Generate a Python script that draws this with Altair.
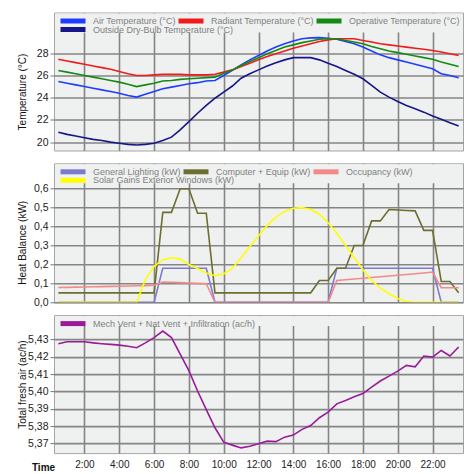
import altair as alt
import pandas as pd

hours = [0.5, 1.0, 1.5, 2.0, 2.5, 3.0, 3.5, 4.0, 4.5, 5.0, 5.5, 6.0, 6.5, 7.0, 7.5, 8.0,
         8.5, 9.0, 9.5, 10.0, 10.5, 11.0, 11.5, 12.0, 12.5, 13.0, 13.5, 14.0, 14.5, 15.0,
         15.5, 16.0, 16.5, 17.0, 17.5, 18.0, 18.5, 19.0, 19.5, 20.0, 20.5, 21.0, 21.5,
         22.0, 22.5, 23.0, 23.5]

# Panel 1: temperatures (°C)
air_temp = [25.45, 25.3, 25.15, 25.0, 24.85, 24.7, 24.55, 24.4, 24.2, 24.05,
            24.3, 24.55, 24.8, 24.95, 25.1, 25.25, 25.35, 25.5, 25.55, 26.0,
            26.45, 26.95, 27.4, 27.8, 28.2, 28.55, 28.85, 29.1, 29.3, 29.38,
            29.4, 29.35, 29.25, 29.05, 28.85, 28.55, 28.2, 27.85, 27.6, 27.4,
            27.2, 27.0, 26.8, 26.6, 26.15, 26.0, 25.8]
radiant_temp = [27.45, 27.3, 27.15, 27.0, 26.85, 26.7, 26.55, 26.35, 26.15, 26.0,
                26.0, 26.05, 26.1, 26.1, 26.1, 26.05, 26.05, 26.05, 26.1, 26.3,
                26.5, 26.8, 27.1, 27.4, 27.7, 27.95, 28.2, 28.45, 28.65, 28.85,
                29.05, 29.2, 29.3, 29.3, 29.3, 29.15, 29.0, 28.85, 28.75, 28.65,
                28.55, 28.45, 28.35, 28.25, 28.1, 27.95, 27.8]
operative_temp = [26.45, 26.3, 26.15, 26.0, 25.85, 25.7, 25.55, 25.4, 25.2, 25.0,
                  25.15, 25.3, 25.5, 25.55, 25.65, 25.7, 25.75, 25.8, 25.85, 26.2,
                  26.5, 26.9, 27.25, 27.6, 27.95, 28.25, 28.55, 28.75, 28.95, 29.1,
                  29.25, 29.3, 29.3, 29.15, 29.0, 28.85, 28.6, 28.4, 28.2, 28.05,
                  27.9, 27.75, 27.6, 27.45, 27.2, 27.0, 26.8]
outside_temp = [20.9, 20.7, 20.55, 20.4, 20.25, 20.15, 20.0, 19.9, 19.8, 19.75,
                19.8, 19.9, 20.15, 20.45, 21.1, 21.85, 22.6, 23.3, 23.95, 24.5,
                25.05, 25.75, 26.15, 26.5, 26.85, 27.15, 27.4, 27.6, 27.6, 27.6,
                27.4, 27.1, 26.8, 26.45, 26.1, 25.7, 25.1, 24.5, 24.05, 23.65,
                23.3, 23.0, 22.7, 22.35, 22.05, 21.75, 21.45]

# Panel 2: heat balance (kW)
lighting = [0, 0, 0, 0, 0, 0, 0, 0, 0, 0, 0, 0,
            0.18, 0.18, 0.18, 0.18, 0.18, 0.18,
            0, 0, 0, 0, 0, 0, 0, 0, 0, 0, 0, 0, 0, 0,
            0.18, 0.18, 0.18, 0.18, 0.18, 0.18, 0.18, 0.18, 0.18, 0.18, 0.18, 0.18,
            0, 0, 0]
computer = [0.05, 0.05, 0.05, 0.05, 0.05, 0.05, 0.05, 0.05, 0.05, 0.05, 0.05, 0.05,
            0.475, 0.475, 0.6, 0.6, 0.47, 0.47,
            0.05, 0.05, 0.05, 0.05, 0.05, 0.05, 0.05, 0.05, 0.05, 0.05, 0.05, 0.05,
            0.115, 0.115, 0.18, 0.18, 0.3, 0.3, 0.43, 0.43, 0.49, 0.487, 0.485, 0.483,
            0.38, 0.38, 0.11, 0.11, 0.05]
occupancy = [0.078, 0.079, 0.08, 0.081, 0.082, 0.083, 0.084, 0.085, 0.086, 0.087, 0.088, 0.09,
             0.107, 0.106, 0.104, 0.102, 0.1, 0.098,
             0, 0, 0, 0, 0, 0, 0, 0, 0, 0, 0, 0, 0, 0,
             0.115, 0.119, 0.123, 0.127, 0.131, 0.135, 0.139, 0.143, 0.147, 0.151, 0.155, 0.16,
             0.077, 0.077, 0.077]
solar = [0, 0, 0, 0, 0, 0, 0, 0, 0, 0,
         0.12, 0.19, 0.225, 0.235, 0.228, 0.2, 0.178, 0.155, 0.14, 0.15,
         0.18, 0.235, 0.295, 0.35, 0.405, 0.45, 0.48, 0.497, 0.5, 0.49,
         0.465, 0.42, 0.365, 0.3, 0.235, 0.172, 0.115, 0.075, 0.045, 0.02,
         0.004, 0, 0, 0, 0, 0, 0]

# Panel 3: total fresh air (ac/h)
fresh_air = [5.4275, 5.4286, 5.4286, 5.4286, 5.428, 5.4275, 5.4271, 5.4267, 5.426, 5.4252,
             5.428, 5.431, 5.4348, 5.431, 5.4215, 5.412, 5.4002, 5.3895, 5.379, 5.3707,
             5.369, 5.3674, 5.3684, 5.3698, 5.3713, 5.371, 5.3736, 5.3748, 5.3781, 5.3803,
             5.3848, 5.388, 5.3928, 5.3948, 5.3969, 5.3988, 5.4025, 5.406, 5.4088, 5.4117,
             5.415, 5.4142, 5.4204, 5.4198, 5.4236, 5.4204, 5.4256]

temp_names = ["Air Temperature (°C)", "Radiant Temperature (°C)",
              "Operative Temperature (°C)", "Outside Dry-Bulb Temperature (°C)"]
temp_colors = ["#1f3dff", "#ee1c1c", "#138a13", "#16168a"]
heat_names = ["General Lighting (kW)", "Computer + Equip (kW)", "Occupancy (kW)",
              "Solar Gains Exterior Windows (kW)"]
heat_colors = ["#7b7bd0", "#6e6e30", "#f28a8a", "#ffff00"]
air_names = ["Mech Vent + Nat Vent + Infiltration (ac/h)"]
air_colors = ["#991b99"]

x_ticks = [2, 4, 6, 8, 10, 12, 14, 16, 18, 20, 22]

BG = "#eff0f0"
GRID = "#858585"
FONT = "Liberation Sans"
W = 409


def long_df(names, series):
    rows = []
    for name, vals in zip(names, series):
        for h, v in zip(hours, vals):
            rows.append({"hour": h, "series": name, "value": v})
    return pd.DataFrame(rows)


def legend(y):
    return alt.Legend(orient="none", legendX=4, legendY=y, direction="horizontal",
                      title=None, symbolType="stroke", symbolSize=625, symbolStrokeWidth=5,
                      labelFontSize=9, labelColor="#808080", labelFont=FONT,
                      columnPadding=-11, padding=0, labelOffset=5, labelLimit=300)


def panel(names, series, colors, ydom, yvals, yfmt, ytitle, title_y, cover_h, height, bottom):
    if bottom:
        xaxis = alt.Axis(values=x_ticks, grid=True, ticks=False, domain=False,
                         labelExpr="datum.value + ':00'", labelFontSize=10,
                         labelPadding=6, labelColor="#222",
                         title="Time", titleX=-11, titleY=17, titleAlign="center",
                         titleBaseline="alphabetic", titleFontWeight="bold",
                         titleFontSize=10, titleColor="#111",
                         gridColor=GRID, gridWidth=1.6)
    else:
        xaxis = alt.Axis(values=x_ticks, grid=True, ticks=False, domain=False,
                         labels=False, title=None, gridColor=GRID, gridWidth=1.6)
    yaxis = alt.Axis(values=yvals, grid=True, domain=False, tickSize=4, tickColor="#777",
                     labelExpr="replace(format(datum.value, '" + yfmt + "'), '.', ',')",
                     labelFontSize=10.5, labelPadding=2, labelColor="#222",
                     gridColor=GRID, gridWidth=1.6,
                     title=ytitle, titleX=-32, titleY=title_y, titleAngle=-90,
                     titleAlign="center", titleBaseline="middle", titleFontSize=10,
                     titleFontWeight="normal", titleColor="#111")
    x = alt.X("hour:Q", scale=alt.Scale(domain=[0.25, 23.75], nice=False, zero=False),
              axis=xaxis)
    y = alt.Y("value:Q", scale=alt.Scale(domain=ydom, nice=False, zero=False), axis=yaxis)

    row1_names, row1_series, row1_colors = names[:3], series[:3], colors[:3]
    layers = []
    cover = alt.Chart(pd.DataFrame({"k": [0]})).mark_rect(color=BG).encode(
        x=alt.value(1), x2=alt.value(W - 1), y=alt.value(1), y2=alt.value(cover_h)
    )
    layers.append(cover)
    first = alt.Chart(long_df(row1_names, row1_series)).mark_line(
        strokeWidth=1.6, clip=True).encode(
        x=x, y=y,
        color=alt.Color("series:N", sort=row1_names,
                        scale=alt.Scale(domain=row1_names, range=row1_colors),
                        legend=legend(-6.5)),
    )
    layers.append(first)
    if len(names) > 3:
        second = alt.Chart(long_df(names[3:], series[3:])).mark_line(
            strokeWidth=1.6, clip=True).encode(
            x=x, y=y,
            stroke=alt.Stroke("series:N",
                              scale=alt.Scale(domain=names[3:], range=colors[3:]),
                              legend=legend(2)),
        )
        layers.append(second)
    return alt.layer(*layers).properties(width=W, height=height)


p1 = panel(temp_names, [air_temp, radiant_temp, operative_temp, outside_temp], temp_colors,
           [19.25, 31.66], [20, 22, 24, 26, 28], ".0f", "Temperature (°C)", 79, 20, 138, False)
p2 = panel(heat_names, [lighting, computer, occupancy, solar], heat_colors,
           [0, 0.734], [0, 0.1, 0.2, 0.3, 0.4, 0.5, 0.6], ".1f", "Heat Balance (kW)", 79, 20,
           139, False)
p3 = panel(air_names, [fresh_air], air_colors,
           [5.3644, 5.444], [5.37, 5.38, 5.39, 5.40, 5.41, 5.42, 5.43], ".2f",
           "Total fresh air (ac/h)", 69, 11, 138, True)

chart = alt.vconcat(p1, p2, p3, spacing=12.8, bounds="flush").resolve_scale(
    color="independent", stroke="independent"
).resolve_legend(color="independent", stroke="independent").properties(
    padding={"left": 16, "top": 5.5, "right": 0, "bottom": 0},
    background="white",
).configure_view(
    fill=BG, stroke="#a5a5a5", strokeWidth=1
).configure_axis(
    labelFont=FONT, titleFont=FONT
).configure_legend(
    labelFont=FONT
)

chart.save("out.html", embed_options={"renderer": "svg", "actions": False})
